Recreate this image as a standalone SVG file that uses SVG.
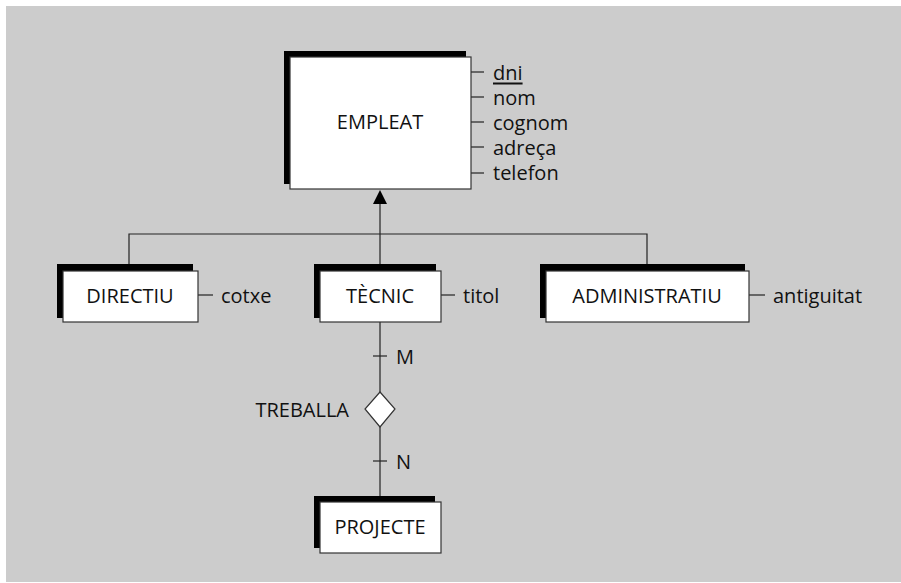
<svg xmlns="http://www.w3.org/2000/svg" width="901" height="583" viewBox="0 0 901 583">
<defs>
<style>
.bg{fill:#cccccc}
.sh{fill:#000000}
.box{fill:#ffffff;stroke:#333333;stroke-width:1.2}
.ln{stroke:#222222;stroke-width:1.2;fill:none}
text{font-family:"Open Sans","Liberation Sans",sans-serif;font-size:20px;fill:#111111}
.c{text-anchor:middle;dominant-baseline:central}
.l{dominant-baseline:central}
.r{text-anchor:end;dominant-baseline:central}
</style>
</defs>
<rect class="bg" x="6" y="6" width="895" height="576"/>
<g id="connectors">
<line class="ln" x1="380" y1="204" x2="380" y2="271"/>
<path d="M373,204 L387,204 L380,190 z" fill="#000"/>
<polyline class="ln" points="129,264 129,234 647,234 647,264"/>
<line class="ln" x1="380" y1="322" x2="380" y2="502"/>
<line class="ln" x1="373" y1="356" x2="387" y2="356"/>
<line class="ln" x1="373" y1="461" x2="387" y2="461"/>
<line class="ln" x1="471" y1="72" x2="484" y2="72"/>
<line class="ln" x1="471" y1="97" x2="484" y2="97"/>
<line class="ln" x1="471" y1="122" x2="484" y2="122"/>
<line class="ln" x1="471" y1="147" x2="484" y2="147"/>
<line class="ln" x1="471" y1="173" x2="484" y2="173"/>
<line class="ln" x1="198" y1="295" x2="213" y2="295"/>
<line class="ln" x1="441" y1="295" x2="455" y2="295"/>
<line class="ln" x1="749" y1="295" x2="765" y2="295"/>
</g>
<g id="empleat">
<rect class="sh" x="284" y="51" width="182" height="133"/>
<rect class="box" x="290" y="57" width="181" height="132"/>
<text class="c" x="380" y="121">EMPLEAT</text>
</g>
<g id="empleat-attrs">
<text class="l" x="493" y="72" text-decoration="underline">dni</text>
<text class="l" x="493" y="97">nom</text>
<text class="l" x="493" y="122">cognom</text>
<text class="l" x="493" y="147">adreça</text>
<text class="l" x="493" y="172">telefon</text>
</g>
<g id="directiu">
<rect class="sh" x="57" y="264" width="136" height="54"/>
<rect class="box" x="63" y="271" width="135" height="51"/>
<text class="c" x="130" y="295">DIRECTIU</text>
<text class="l" x="221" y="295">cotxe</text>
</g>
<g id="tecnic">
<rect class="sh" x="314" y="264" width="122" height="54"/>
<rect class="box" x="320" y="271" width="121" height="51"/>
<text class="c" x="380" y="295">TÈCNIC</text>
<text class="l" x="463" y="295">titol</text>
</g>
<g id="administratiu">
<rect class="sh" x="540" y="264" width="205" height="54"/>
<rect class="box" x="546" y="271" width="203" height="51"/>
<text class="c" x="647" y="295">ADMINISTRATIU</text>
<text class="l" x="773" y="295">antiguitat</text>
</g>
<g id="treballa">
<path class="box" d="M380,392 L395,409 L380,427 L365,409 z"/>
<text class="r" x="349" y="409">TREBALLA</text>
<text class="l" x="396" y="356">M</text>
<text class="l" x="396" y="461">N</text>
</g>
<g id="projecte">
<rect class="sh" x="314" y="496" width="121" height="52"/>
<rect class="box" x="320" y="502" width="121" height="51"/>
<text class="c" x="380" y="526">PROJECTE</text>
</g>
</svg>
